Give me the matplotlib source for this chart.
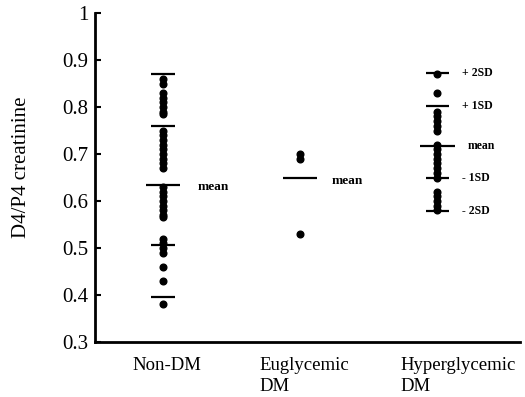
import numpy as np
import matplotlib.pyplot as plt
import matplotlib.transforms as mtransforms

plt.rcParams['font.family'] = ['Liberation Serif', 'DejaVu Serif']

groups = ['Non-DM', 'Euglycemic\nDM', 'Hyperglycemic\nDM']

non_dm = [0.86, 0.85, 0.83, 0.82, 0.81, 0.80, 0.79, 0.785,
          0.75, 0.74, 0.73, 0.72, 0.71, 0.70, 0.69, 0.68, 0.67,
          0.63, 0.62, 0.61, 0.60, 0.59, 0.58, 0.57, 0.565,
          0.52, 0.51, 0.50, 0.49, 0.46, 0.43, 0.38]
eugly = [0.70, 0.69, 0.53]
hyper = [0.87, 0.83, 0.79, 0.78, 0.77, 0.76, 0.75,
         0.72, 0.71, 0.70, 0.69, 0.68, 0.67, 0.66, 0.65,
         0.62, 0.61, 0.60, 0.59, 0.58]

# mean and SD bars: (mean, +1SD, -1SD, +2SD, -2SD)
non_dm_lines = [0.635, 0.76, 0.507, 0.87, 0.395]
eugly_mean = 0.648
hyper_lines = [0.717, 0.802, 0.650, 0.872, 0.579]
sd_names = ['mean', '+ 1SD', '- 1SD', '+ 2SD', '- 2SD']

fig = plt.figure(figsize=(5.25, 3.97), dpi=100)
ax = fig.add_axes([0.181, 0.1385, 0.809, 0.8285])

for i, vals in enumerate([non_dm, eugly, hyper]):
    ax.plot(np.full(len(vals), i), vals, 'o', color='black', ms=4.8, mec='black')


def bars(x, lines):
    for j, v in enumerate(lines):
        hw = 0.125 if j == 0 else 0.085
        ax.plot([x - hw, x + hw], [v, v], color='black', lw=1.6, solid_capstyle='butt')


bars(0, non_dm_lines)
bars(1, [eugly_mean])
bars(2, hyper_lines)

ax.text(0.25, non_dm_lines[0] - 0.005, 'mean', fontsize=9.5, fontweight='bold', va='center')
ax.text(1.23, eugly_mean - 0.005, 'mean', fontsize=9.5, fontweight='bold', va='center')
for v, name in zip(hyper_lines, sd_names):
    off = 0.22 if name == 'mean' else 0.18
    ax.text(2 + off, v, name, fontsize=8.5, fontweight='bold', va='center')

ax.set_xlim(-0.495, 2.6)
ax.set_ylim(0.3, 1.0)
ax.set_yticks([0.3, 0.4, 0.5, 0.6, 0.7, 0.8, 0.9, 1.0])
ax.set_yticklabels(['0.3', '0.4', '0.5', '0.6', '0.7', '0.8', '0.9', '1'])
ax.set_xticks([])

# group labels under the axis, placed as in the original
trans = mtransforms.blended_transform_factory(ax.transData, ax.transAxes)
label_x = [0.03, 0.70, 1.73]
label_ha = ['center', 'left', 'left']
for gx, ha, name in zip(label_x, label_ha, groups):
    ax.text(gx, -0.045, name, transform=trans, ha=ha, va='top', fontsize=13.5,
            linespacing=1.35)

ax.tick_params(axis='y', direction='in', length=4, width=1.5, labelsize=15, pad=5)
ax.set_ylabel('D4/P4 creatinine', fontsize=15)
ax.yaxis.set_label_coords(-0.15, 0.53)

for s in ['top', 'right']:
    ax.spines[s].set_visible(False)
ax.spines['left'].set_linewidth(2)
ax.spines['bottom'].set_linewidth(2)

fig.savefig('out.png', dpi=100)
